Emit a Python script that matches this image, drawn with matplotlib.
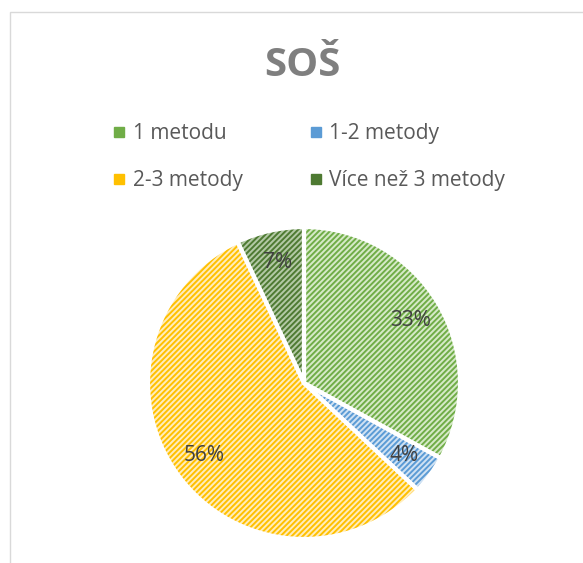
import matplotlib
matplotlib.use("Agg")
import matplotlib.pyplot as plt
from matplotlib.patches import Rectangle
from matplotlib.lines import Line2D

title = "SOŠ"
categories = ["1 metodu", "1-2 metody", "2-3 metody", "Více než 3 metody"]
values = [33, 4, 56, 7]
main_colors = ["#70AD47", "#5B9BD5", "#FFC000", "#4E7A32"]
light_colors = ["#D6EAC8", "#D0E2F3", "#FFEDBC", "#B3C9A5"]

plt.rcParams['font.family'] = ['Open Sans', 'DejaVu Sans']
plt.rcParams['hatch.linewidth'] = 1.4

W, H = 583, 563
fig = plt.figure(figsize=(W / 100, H / 100), dpi=100)
fig.patch.set_facecolor("white")

# chart area border
fig.add_artist(Rectangle((10 / W, -0.01), 1.0, 1 - 12 / H + 0.01, transform=fig.transFigure,
                         fill=False, edgecolor="#D9D9D9", linewidth=1.0))

fig.text(302 / W, 1 - 65 / H, title, ha="center", va="center", fontsize=29,
         fontweight="bold", color="#7F7F7F")

cx, cy, r = 304, 383, 156
pad = 10
ax = fig.add_axes([(cx - r - pad) / W, (H - cy - r - pad) / H, 2 * (r + pad) / W, 2 * (r + pad) / H])

wedges, texts, autotexts = ax.pie(values, startangle=90, counterclock=False, radius=1,
                                  colors=light_colors, autopct="%1.0f%%", pctdistance=0.79,
                                  wedgeprops=dict(linewidth=0),
                                  textprops=dict(fontsize=15, color="#404040"))
for w, c in zip(wedges, main_colors):
    w.set_hatch("//////")
    w.set_edgecolor(c)
    w.set_linewidth(0)
# white separators
ax.pie(values, startangle=90, counterclock=False, radius=1,
       colors=["none"] * len(values),
       wedgeprops=dict(linewidth=3, edgecolor="white", fill=False))
for t in autotexts:
    t.set_zorder(10)

lim = (r + pad) / r
ax.set_xlim(-lim, lim)
ax.set_ylim(-lim, lim)
ax.set_aspect("equal")
ax.axis("off")

# legend (row-wise order for 2 columns)
handles = [Line2D([], [], marker="s", linestyle="none", markersize=7,
                  markerfacecolor=c, markeredgecolor=c) for c in main_colors]
order = [0, 2, 1, 3]
fig.legend([handles[i] for i in order], [categories[i] for i in order],
           loc="center", bbox_to_anchor=(308 / W, 1 - 157 / H), ncol=2, frameon=False,
           fontsize=15, labelcolor="#595959", handletextpad=0.25, columnspacing=3.1,
           labelspacing=1.25, handlelength=0.8)

fig.savefig("out.png", dpi=100, facecolor="white")
